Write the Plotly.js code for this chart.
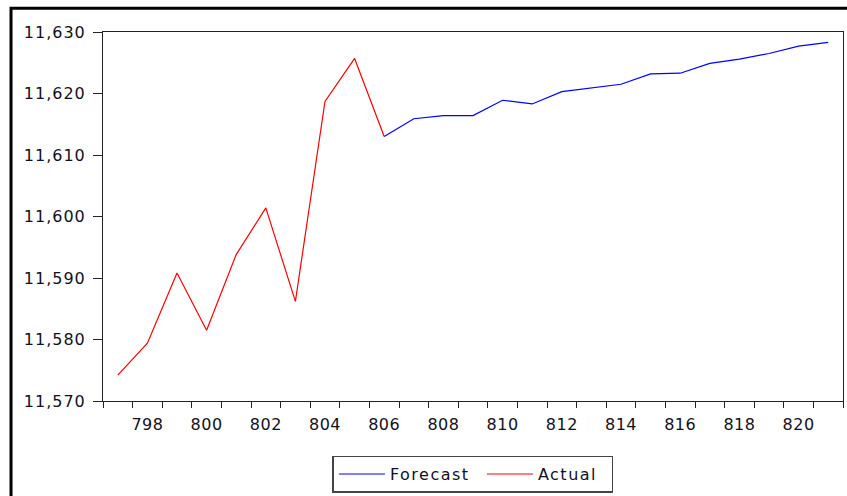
<!DOCTYPE html>
<html>
<head>
<meta charset="utf-8">
<script src="https://cdn.plot.ly/plotly-3.0.1.min.js"></script>
<style>
  html, body { margin: 0; padding: 0; background: #fff; }
  #chart { width: 847px; height: 496px; }
  /* slightly wider letter spacing for axis and legend text */
  #chart .ytick text { letter-spacing: 1px; }
  #chart .xtick text { letter-spacing: 0.5px; }
  #chart .legendtext { letter-spacing: 1.5px; }
</style>
</head>
<body>
<div id="chart"></div>
<script>
// Observation numbers and values
const actualX = [797, 798, 799, 800, 801, 802, 803, 804, 805, 806];
const actualY = [11574.2, 11579.4, 11590.8, 11581.5, 11593.8, 11601.4, 11586.2, 11618.7, 11625.7, 11613.0];

const forecastX = [806, 807, 808, 809, 810, 811, 812, 813, 814, 815, 816, 817, 818, 819, 820, 821];
const forecastY = [11613.0, 11615.9, 11616.4, 11616.4, 11618.9, 11618.3, 11620.3, 11620.9, 11621.5,
                   11623.2, 11623.3, 11624.9, 11625.6, 11626.5, 11627.7, 11628.3];

const xTickVals = [798, 800, 802, 804, 806, 808, 810, 812, 814, 816, 818, 820];
const yTickVals = [11570, 11580, 11590, 11600, 11610, 11620, 11630];

// Observation span and tick marks on the boundaries between observations
const firstObs = actualX[0];
const lastObs = forecastX[forecastX.length - 1];
const boundaries = [];
for (let v = firstObs - 0.5; v <= lastObs + 0.5; v += 1) boundaries.push(v);

const font = { family: 'DejaVu Sans, sans-serif', size: 16, color: '#111122' };

const traces = [
  {
    x: forecastX, y: forecastY, name: 'Forecast', type: 'scatter', mode: 'lines',
    line: { color: '#0000ff', width: 1.2 },
    legendwidth: 87
  },
  {
    x: actualX, y: actualY, name: 'Actual', type: 'scatter', mode: 'lines',
    line: { color: '#ff0000', width: 1.2 },
    legendwidth: 69
  }
];

const layout = {
  width: 847, height: 496,
  margin: { l: 103, r: 4, t: 32, b: 95, autoexpand: false },
  paper_bgcolor: '#ffffff', plot_bgcolor: '#ffffff',
  font: font,
  showlegend: true,
  legend: {
    orientation: 'h', x: 0.310, y: -0.148, xanchor: 'left', yanchor: 'top',
    bordercolor: '#444', borderwidth: 1.5, bgcolor: '#fff',
    font: { family: 'DejaVu Sans, sans-serif', size: 16, color: '#111122' },
    itemwidth: 46,
    traceorder: 'normal'
  },
  xaxis: {
    range: [firstObs - 0.5, lastObs + 0.5],
    tickmode: 'array', tickvals: xTickVals,
    ticks: 'outside', ticklen: 6, tickcolor: 'rgba(0,0,0,0)',
    ticklabelstandoff: 3,
    minor: { tickmode: 'array', tickvals: boundaries, ticks: 'outside', ticklen: 6, tickcolor: '#222', tickwidth: 1 },
    showgrid: false, zeroline: false,
    showline: true, linecolor: '#222', linewidth: 1, mirror: true,
    tickfont: font
  },
  yaxis: {
    range: [11570, 11630],
    tickmode: 'array', tickvals: yTickVals, tickformat: ',d',
    ticks: 'outside', ticklen: 9, tickcolor: '#222', tickwidth: 1,
    ticklabelstandoff: 4,
    showgrid: false, zeroline: false,
    showline: true, linecolor: '#222', linewidth: 1, mirror: true,
    tickfont: font
  },
  shapes: [
    // outer frame around the whole graphic
    { type: 'rect', xref: 'paper', yref: 'paper',
      x0: -0.1243, x1: 1.2, y0: -0.5, y1: 1.0645,
      line: { color: '#000', width: 3 }, fillcolor: 'rgba(0,0,0,0)', layer: 'above' }
  ]
};

Plotly.newPlot('chart', traces, layout, { staticPlot: true, displayModeBar: false });
</script>
</body>
</html>
